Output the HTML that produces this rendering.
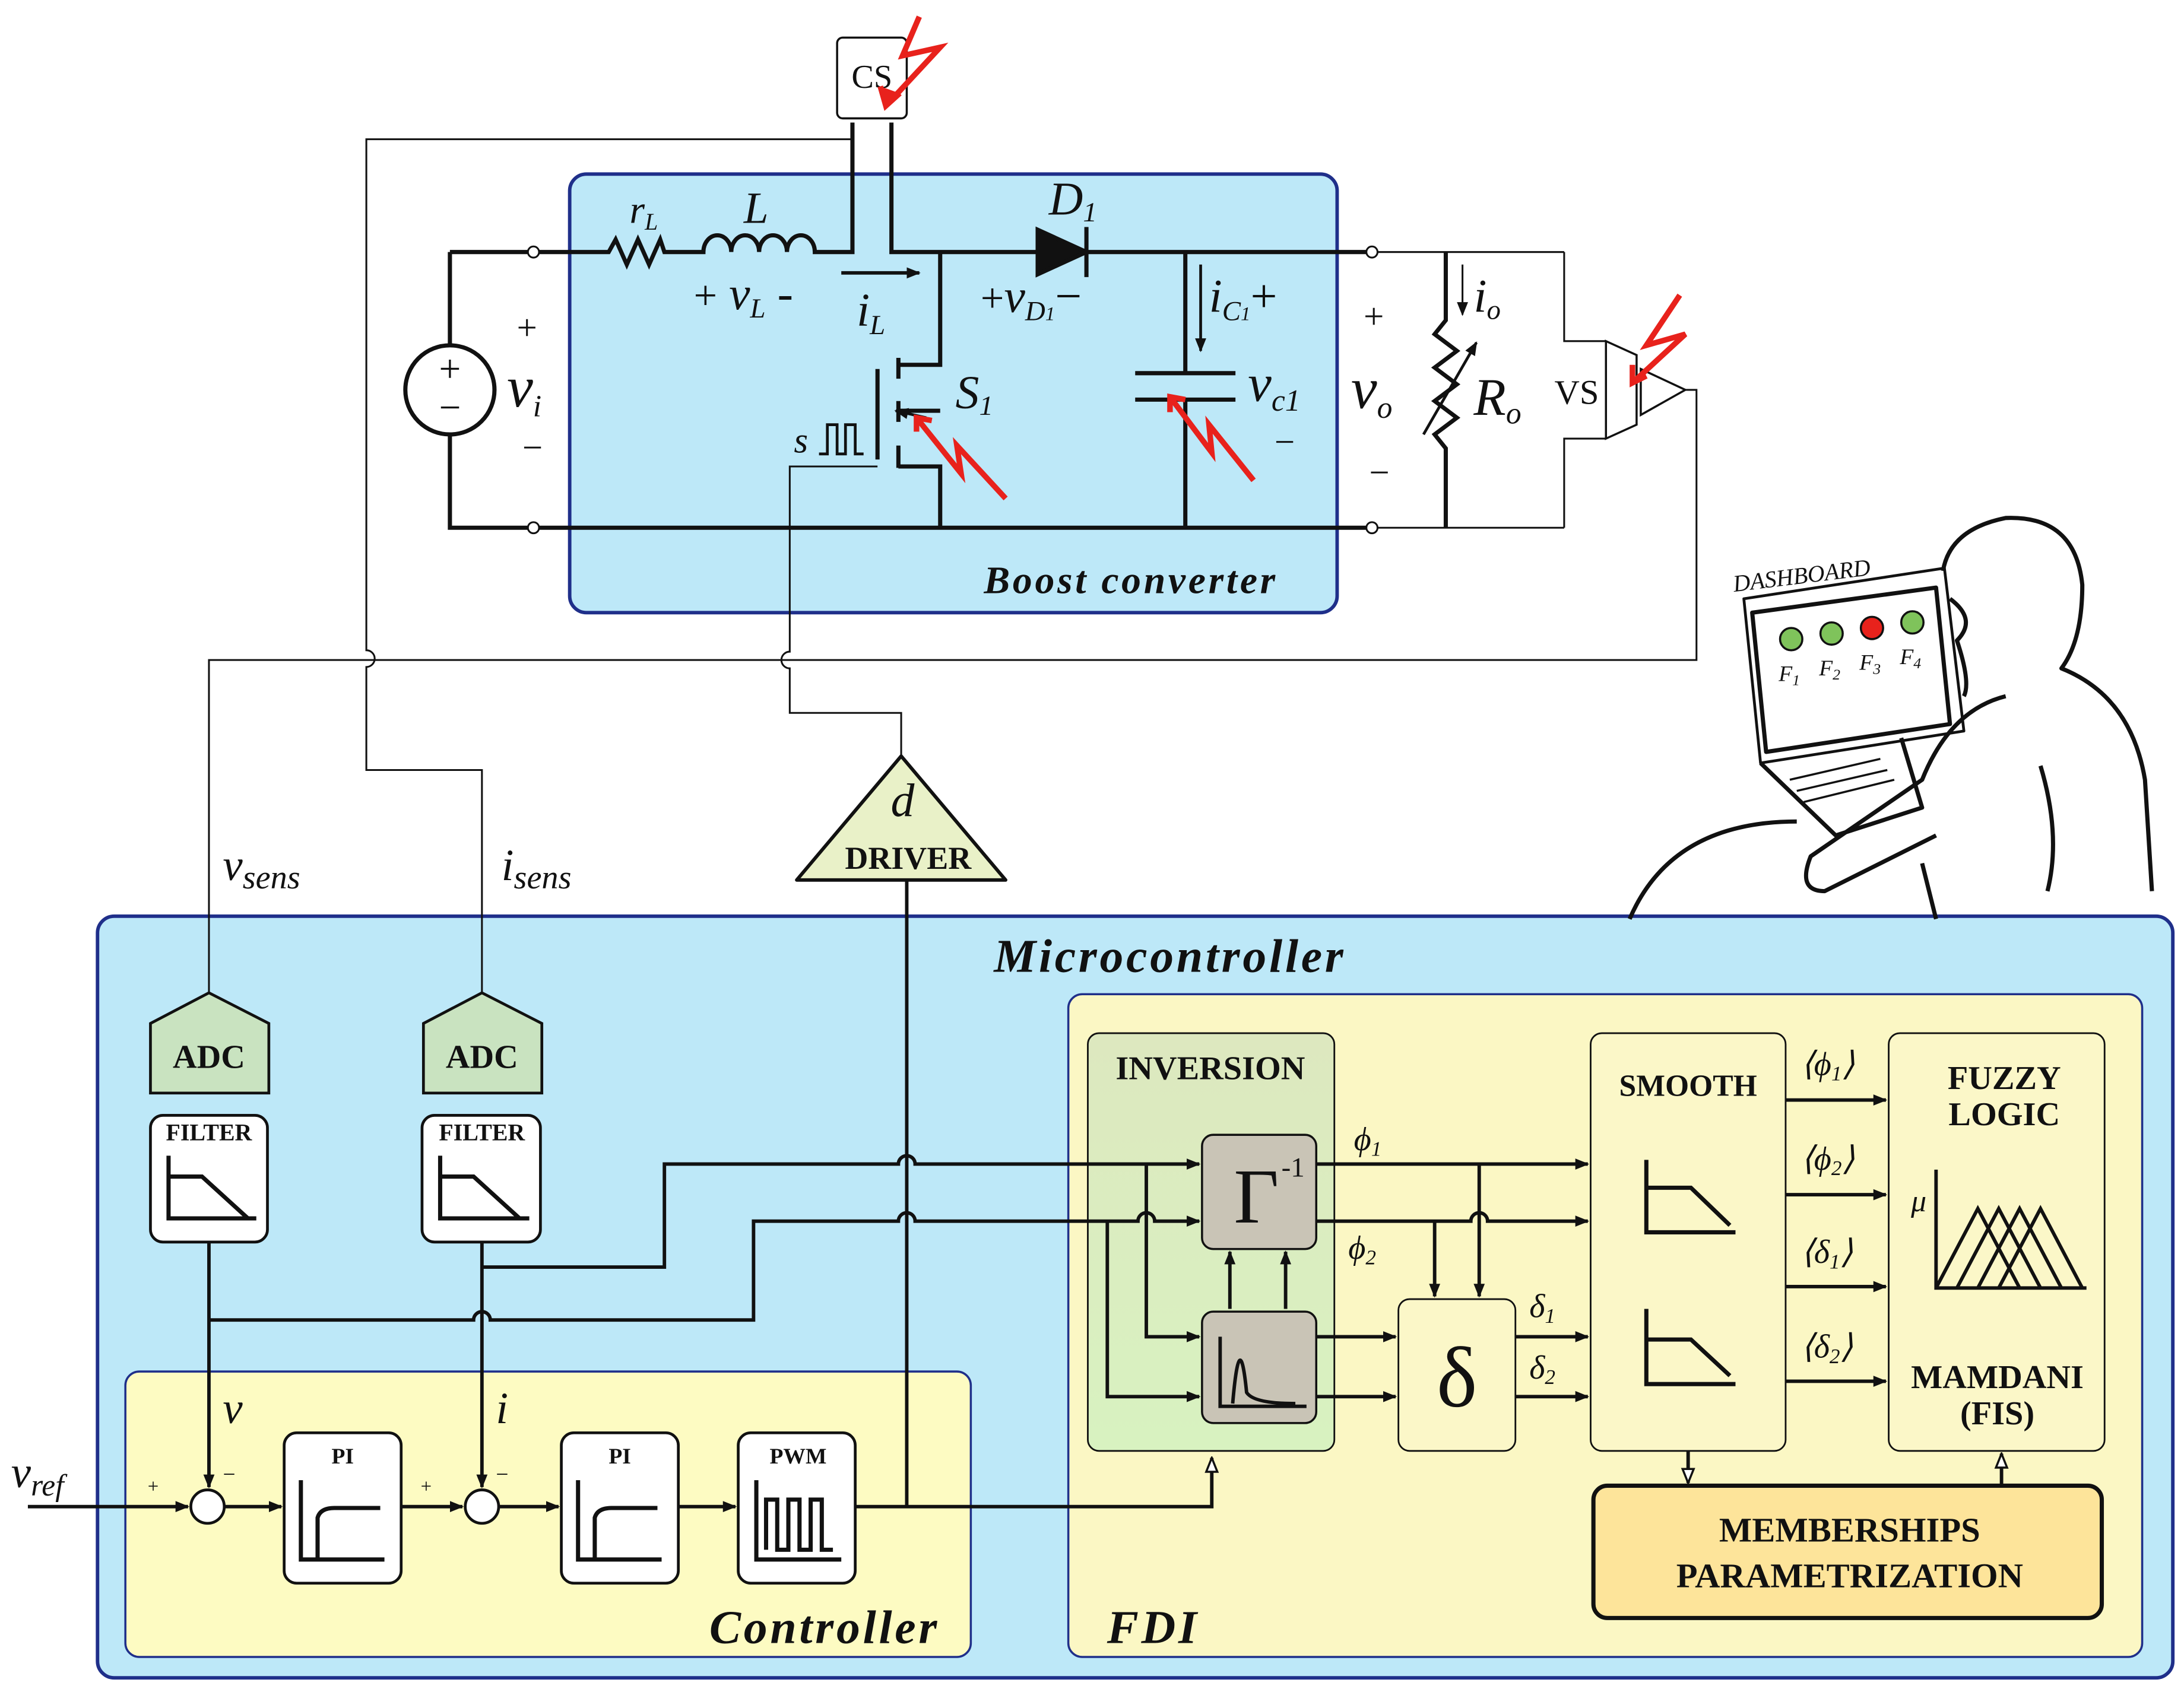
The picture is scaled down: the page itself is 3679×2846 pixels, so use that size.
<!DOCTYPE html>
<html><head><meta charset="utf-8"><style>
html,body{margin:0;padding:0;background:#fff;}
svg{display:block}
text{font-family:"Liberation Serif",serif;fill:#111}
.m{font-style:italic}
.b{font-weight:bold}
</style></head><body>
<svg width="3679" height="2846" viewBox="0 0 1568 1213" xmlns="http://www.w3.org/2000/svg">
<defs>
<marker id="a" markerWidth="10" markerHeight="10" refX="9" refY="5" orient="auto" markerUnits="userSpaceOnUse">
<path d="M0,1 L10,5 L0,9 z" fill="#111"/></marker>
<marker id="o" markerWidth="12" markerHeight="12" refX="11" refY="6" orient="auto" markerUnits="userSpaceOnUse">
<path d="M1,2 L11,6 L1,10 z" fill="#fff" stroke="#111" stroke-width="1.5"/></marker>
<linearGradient id="g" x1="0" y1="0" x2="0" y2="1"><stop offset="0" stop-color="#dde8bf"/><stop offset="1" stop-color="#d8f2c0"/></linearGradient>
</defs>
<rect x="409" y="125" width="551" height="315" rx="12" fill="#bde8f8" stroke="#1f2f8a" stroke-width="2.5"/>
<rect x="70" y="658" width="1490" height="547" rx="12" fill="#bde8f8" stroke="#1f2f8a" stroke-width="2.5"/>
<rect x="90" y="985" width="607" height="205" rx="10" fill="#fdfbc2" stroke="#1f2f8a" stroke-width="1.5"/>
<rect x="767" y="714" width="771" height="476" rx="10" fill="#fbf7c4" stroke="#1f2f8a" stroke-width="1.5"/>
<rect x="781" y="742" width="177" height="300" rx="8" fill="url(#g)" stroke="#111" stroke-width="1.2"/>
<rect x="1142" y="742" width="140" height="300" rx="8" fill="#fbf7c8" stroke="#111" stroke-width="1.2"/>
<rect x="1356" y="742" width="155" height="300" rx="8" fill="#fbf7c8" stroke="#111" stroke-width="1.2"/>
<rect x="1144" y="1067" width="365" height="95" rx="10" fill="#fde49a" stroke="#111" stroke-width="3"/>
<rect x="1004" y="933" width="84" height="109" rx="8" fill="#fbf7c8" stroke="#111" stroke-width="1.2"/>
<rect x="863" y="815" width="82" height="82" rx="8" fill="#c9c4b6" stroke="#111" stroke-width="1.5"/>
<rect x="863" y="942" width="82" height="80" rx="8" fill="#c9c4b6" stroke="#111" stroke-width="1.5"/>
<text x="840" y="698" font-size="34" letter-spacing="2" class="m b" text-anchor="middle">Microcontroller</text>
<text x="812" y="426" font-size="28" letter-spacing="2" class="m b" text-anchor="middle">Boost converter</text>
<text x="592" y="1180" font-size="34" letter-spacing="2" class="m b" text-anchor="middle">Controller</text>
<text x="828" y="1180" font-size="34" letter-spacing="2" class="m b" text-anchor="middle">FDI</text>
<text x="869" y="775" font-size="24" class="b" text-anchor="middle">INVERSION</text>
<text x="1212" y="787" font-size="22" class="b" text-anchor="middle">SMOOTH</text>
<text x="1439" y="782" font-size="24" class="b" text-anchor="middle">FUZZY</text>
<text x="1439" y="808" font-size="24" class="b" text-anchor="middle">LOGIC</text>
<text x="1434" y="997" font-size="24" class="b" text-anchor="middle">MAMDANI</text>
<text x="1434" y="1023" font-size="24" class="b" text-anchor="middle">(FIS)</text>
<text x="1328" y="1107" font-size="25" class="b" text-anchor="middle">MEMBERSHIPS</text>
<text x="1328" y="1140" font-size="25" class="b" text-anchor="middle">PARAMETRIZATION</text>
<text x="902" y="878" font-size="56" text-anchor="middle">Γ</text><text x="920" y="845" font-size="20">-1</text>
<text x="1046" y="1010" font-size="62" text-anchor="middle">δ</text>
<g stroke="#111" stroke-width="2" fill="#c9e3c0">
<path d="M108,735 L150,713 L193,735 L193,785 L108,785 z"/>
<path d="M304,735 L346,713 L389,735 L389,785 L304,785 z"/>
</g>
<text x="150" y="767" font-size="24" class="b" text-anchor="middle">ADC</text>
<text x="346" y="767" font-size="24" class="b" text-anchor="middle">ADC</text>
<g stroke="#111" stroke-width="2" fill="#fff">
<rect x="108" y="801" width="84" height="91" rx="9"/>
<rect x="303" y="801" width="85" height="91" rx="9"/>
<rect x="204" y="1029" width="84" height="108" rx="9"/>
<rect x="403" y="1029" width="84" height="108" rx="9"/>
<rect x="530" y="1029" width="84" height="108" rx="9"/>
<circle cx="149" cy="1082" r="12"/><circle cx="346" cy="1082" r="12"/>
</g>
<text x="150" y="819" font-size="17" class="b" text-anchor="middle">FILTER</text>
<text x="346" y="819" font-size="17" class="b" text-anchor="middle">FILTER</text>
<text x="246" y="1051" font-size="16" class="b" text-anchor="middle">PI</text>
<text x="445" y="1051" font-size="16" class="b" text-anchor="middle">PI</text>
<text x="573" y="1051" font-size="16" class="b" text-anchor="middle">PWM</text>
<g stroke="#111" stroke-width="3" fill="none">
<path d="M121,830 V875 H184 M121,845 H145 L178,875"/>
<path d="M316,830 V875 H380 M316,845 H340 L373,875"/>
<path d="M216,1063 V1120 H276 M228,1120 V1090 Q230,1083 240,1083 H273"/>
<path d="M415,1063 V1120 H475 M427,1120 V1090 Q429,1083 439,1083 H472"/>
<path d="M543,1063 V1120 H604 M550,1113 V1077 H558 V1113 H566 V1077 H574 V1113 H582 V1077 H590 V1113 H598"/>
<path d="M1182,833 V885 H1246 M1182,853 H1214 L1242,880"/>
<path d="M1182,940 V994 H1246 M1182,962 H1214 L1242,988"/>
<path d="M876,960 V1010 H938 M885,1008 Q890,950 895,1000 Q900,1008 930,1008" stroke-width="2.5"/>
<path d="M1390,840 V925 H1498 M1390,925 L1420,868 L1450,925 M1405,925 L1435,868 L1465,925 M1420,925 L1450,868 L1480,925 M1435,925 L1465,868 L1495,925" stroke-width="2.5"/>
</g>
<text x="1372" y="870" font-size="22" class="m">μ</text>
<g stroke="#111" stroke-width="2.5" fill="none">
<path d="M150,892 V1068" marker-end="url(#a)"/>
<path d="M346,892 V1068" marker-end="url(#a)"/>
<path d="M20,1082 H135" marker-end="url(#a)"/>
<path d="M161,1082 H202" marker-end="url(#a)"/>
<path d="M288,1082 H332" marker-end="url(#a)"/>
<path d="M358,1082 H401" marker-end="url(#a)"/>
<path d="M487,1082 H528" marker-end="url(#a)"/>
<path d="M614,1082 H870 V1047" marker-end="url(#o)"/>
<path d="M651,632 V1082"/>
<path d="M150,948 H340 a6,6 0 0 1 12,0 H541 V877 H645 a6,6 0 0 1 12,0 H817 a6,6 0 0 1 12,0 H861" marker-end="url(#a)"/>
<path d="M346,910 H477 V836 H645 a6,6 0 0 1 12,0 H861" marker-end="url(#a)"/>
<path d="M795,877 V1003 H861" marker-end="url(#a)"/>
<path d="M823,836 V960 H861" marker-end="url(#a)"/>
<path d="M883,940 V899" marker-end="url(#a)"/>
<path d="M923,940 V899" marker-end="url(#a)"/>
<path d="M945,836 H1140" marker-end="url(#a)"/>
<path d="M945,877 H1056 a6,6 0 0 1 12,0 H1140" marker-end="url(#a)"/>
<path d="M1062,836 V931" marker-end="url(#a)"/>
<path d="M1030,877 V931" marker-end="url(#a)"/>
<path d="M945,960 H1002" marker-end="url(#a)"/>
<path d="M945,1003 H1002" marker-end="url(#a)"/>
<path d="M1088,960 H1140" marker-end="url(#a)"/>
<path d="M1088,1003 H1140" marker-end="url(#a)"/>
<path d="M1282,790 H1354" marker-end="url(#a)"/>
<path d="M1282,858 H1354" marker-end="url(#a)"/>
<path d="M1282,924 H1354" marker-end="url(#a)"/>
<path d="M1282,992 H1354" marker-end="url(#a)"/>
<path d="M1212,1042 V1065" marker-end="url(#o)"/>
<path d="M1437,1067 V1044" marker-end="url(#o)"/>
</g>
<g font-size="24" class="m">
<text x="972" y="826">ϕ<tspan font-size="15" dy="4">1</tspan></text>
<text x="968" y="904">ϕ<tspan font-size="15" dy="4">2</tspan></text>
<text x="1098" y="946">δ<tspan font-size="15" dy="4">1</tspan></text>
<text x="1098" y="990">δ<tspan font-size="15" dy="4">2</tspan></text>
<text x="1293" y="772">⟨ϕ<tspan font-size="15" dy="4">1</tspan><tspan dy="-4">⟩</tspan></text>
<text x="1293" y="840">⟨ϕ<tspan font-size="15" dy="4">2</tspan><tspan dy="-4">⟩</tspan></text>
<text x="1293" y="907">⟨δ<tspan font-size="15" dy="4">1</tspan><tspan dy="-4">⟩</tspan></text>
<text x="1293" y="975">⟨δ<tspan font-size="15" dy="4">2</tspan><tspan dy="-4">⟩</tspan></text>
</g>
<text x="160" y="1022" font-size="32" class="m">v</text>
<text x="356" y="1022" font-size="32" class="m">i</text>
<text x="8" y="1068" font-size="32" class="m">v<tspan font-size="22" dy="6">ref</tspan></text>
<text x="106" y="1072" font-size="14">+</text><text x="160" y="1064" font-size="16">−</text>
<text x="302" y="1072" font-size="14">+</text><text x="356" y="1064" font-size="16">−</text>
<text x="160" y="632" font-size="32" class="m">v<tspan font-size="24" dy="6">sens</tspan></text>
<text x="360" y="632" font-size="32" class="m">i<tspan font-size="24" dy="6">sens</tspan></text>
<path d="M572,632 L647,543 L722,632 z" fill="#e9f1c8" stroke="#111" stroke-width="2.5" stroke-linejoin="round"/>
<text x="648" y="586" font-size="34" class="m" text-anchor="middle">d</text>
<text x="652" y="624" font-size="23" class="b" text-anchor="middle">DRIVER</text>
<g stroke="#111" stroke-width="1.3" fill="none">
<path d="M612,88 V100 H263 V467 a6,6 0 0 1 0,12 V553 H346 V713"/>
<path d="M1210,280 H1218 V474 H150 V713"/>
<path d="M647,543 V512 H567 V480 a6,6 0 0 1 0,-12 V335 H630"/>
<path d="M1123,181 V245 H1153 M1123,379 V315 H1153"/>
<path d="M985,181 H1123 M985,379 H1123"/>
</g>
<g stroke="#111" stroke-width="3" fill="none">
<path d="M323,181 H437 L442,172 L450,190 L458,172 L466,190 L474,172 L477,181 H505 a10,12 0 0 1 20,0 a10,12 0 0 1 20,0 a10,12 0 0 1 20,0 a10,12 0 0 1 20,0 H612 V88"/>
<path d="M640,88 V181 H745 M780,181 H985"/>
<path d="M323,181 V248 M323,312 V379 H985"/>
<path d="M675,181 V262 H645 M675,379 V335 H645 M645,295 H675"/>
<path d="M630,265 V330 M645,257 V272 M645,288 V303 M645,320 V336"/>
<path d="M851,181 V268 M851,287 V379"/>
<path d="M815,268 H887 M815,287 H887"/>
<path d="M1038,181 V230 L1030,240 L1046,252 L1030,264 L1046,276 L1030,288 L1046,300 L1030,312 L1038,322 V379"/>
<path d="M1022,312 L1060,246" stroke-width="2" marker-end="url(#a)"/>
<path d="M604,196 H660" stroke-width="2.5" marker-end="url(#a)"/>
<path d="M862,190 V252" stroke-width="2" marker-end="url(#a)"/>
<path d="M1050,190 V226" stroke-width="1.3" marker-end="url(#a)"/>
<path d="M665,300 L643,295" stroke-width="2" marker-end="url(#a)"/>
</g>
<path d="M745,165 V197 L780,181 z M780,163 V199" fill="#111" stroke="#111" stroke-width="3"/>
<circle cx="323" cy="280" r="32" fill="#fff" stroke="#111" stroke-width="3"/>
<text x="323" y="274" font-size="28" text-anchor="middle">+</text>
<text x="323" y="302" font-size="28" text-anchor="middle">−</text>
<g fill="#fff" stroke="#111" stroke-width="1.3">
<circle cx="383" cy="181" r="4"/><circle cx="383" cy="379" r="4"/><circle cx="985" cy="181" r="4"/><circle cx="985" cy="379" r="4"/>
</g>
<rect x="601" y="27" width="50" height="58" rx="4" fill="#fff" stroke="#111" stroke-width="1.5"/>
<text x="626" y="63" font-size="24" text-anchor="middle">CS</text>
<path d="M1153,245 L1175,255 V305 L1153,315 z M1178,265 L1210,280 L1178,298 z" fill="#fff" stroke="#111" stroke-width="1.5"/>
<text x="1132" y="290" font-size="25" text-anchor="middle">VS</text>
<g stroke="#e8221c" stroke-width="4" fill="none">
<path d="M660,12 L648,40 L675,34 L636,76"/><path d="M646,67 L636,76 L632,62" fill="#e8221c"/>
<path d="M1206,212 L1182,248 L1210,240 L1172,275"/><path d="M1182,270 L1172,275 L1172,262"/>
<path d="M722,358 L687,320 L690,340 L658,300"/><path d="M658,310 L658,300 L669,302"/>
<path d="M900,345 L868,305 L870,325 L840,285"/><path d="M840,296 L840,285 L851,287"/>
</g>
<g class="m">
<text x="452" y="160" font-size="28">r<tspan font-size="17" dy="5">L</tspan></text>
<text x="534" y="160" font-size="32">L</text>
<text x="498" y="222" font-size="34"><tspan font-style="normal" font-size="30">+</tspan> v<tspan font-size="20" dy="6">L</tspan><tspan dy="-6" font-style="normal"> -</tspan></text>
<text x="615" y="234" font-size="34">i<tspan font-size="20" dy="6">L</tspan></text>
<text x="753" y="154" font-size="34">D<tspan font-size="20" dy="5">1</tspan></text>
<text x="704" y="224" font-size="34"><tspan font-style="normal" font-size="30">+</tspan>v<tspan font-size="20" dy="6">D<tspan font-size="14">1</tspan></tspan><tspan dy="-6" font-style="normal">−</tspan></text>
<text x="868" y="224" font-size="34">i<tspan font-size="20" dy="6">C<tspan font-size="14">1</tspan></tspan><tspan dy="-6" font-style="normal">+</tspan></text>
<text x="686" y="293" font-size="34">S<tspan font-size="20" dy="5">1</tspan></text>
<text x="896" y="288" font-size="38">v<tspan font-size="22" dy="7">c1</tspan></text>
<text x="570" y="325" font-size="26">s</text>
<text x="364" y="292" font-size="42">v<tspan font-size="22" dy="7">i</tspan></text>
<text x="970" y="293" font-size="42">v<tspan font-size="22" dy="7">o</tspan></text>
<text x="1058" y="298" font-size="38">R<tspan font-size="22" dy="6">o</tspan></text>
<text x="1058" y="224" font-size="34">i<tspan font-size="20" dy="5">o</tspan></text>
</g>
<path d="M588,326 H594 V305 H601 V326 H607 V305 H614 V326 H620" stroke="#111" stroke-width="2" fill="none"/>
<g font-size="26">
<text x="371" y="244">+</text><text x="375" y="330">−</text>
<text x="979" y="236">+</text><text x="983" y="348">−</text>
<text x="915" y="326">−</text>
</g>
<g stroke="#111" stroke-width="3" fill="none" stroke-linejoin="round">
<path d="M1258,440 L1390,422 L1400,520 L1268,540 z"/>
<path d="M1252,430 L1396,408 L1410,525 L1264,548 z" stroke-width="2"/>
<path d="M1264,548 L1318,600 L1380,580 L1365,530"/>
<path d="M1285,560 L1350,545 M1290,568 L1355,553 M1295,576 L1360,560" stroke-width="1.5"/>
<path d="M1395,410 Q1400,380 1440,372 Q1490,370 1495,420 Q1495,460 1480,480 Q1530,500 1540,560 L1545,640"/>
<path d="M1400,430 Q1420,445 1405,460 Q1415,490 1410,500"/>
<path d="M1440,500 Q1400,510 1380,560 L1300,615 Q1290,640 1310,640 L1390,600"/>
<path d="M1170,660 Q1200,590 1290,590"/>
<path d="M1380,620 L1390,660"/>
<path d="M1465,550 Q1480,600 1470,640"/>
</g>
<text x="1245" y="425" font-size="17" class="m" transform="rotate(-7 1245 425)">DASHBOARD</text>
<g stroke="#111" stroke-width="1.5">
<circle cx="1286" cy="459" r="8" fill="#7fc35b"/><circle cx="1315" cy="455" r="8" fill="#7fc35b"/>
<circle cx="1344" cy="451" r="8" fill="#e8221c"/><circle cx="1373" cy="447" r="8" fill="#7fc35b"/>
</g>
<g font-size="16" class="m"><text x="1277" y="489">F<tspan font-size="11" dy="3">1</tspan></text><text x="1306" y="485">F<tspan font-size="11" dy="3">2</tspan></text><text x="1335" y="481">F<tspan font-size="11" dy="3">3</tspan></text><text x="1364" y="477">F<tspan font-size="11" dy="3">4</tspan></text></g>
</svg>
</body></html>
